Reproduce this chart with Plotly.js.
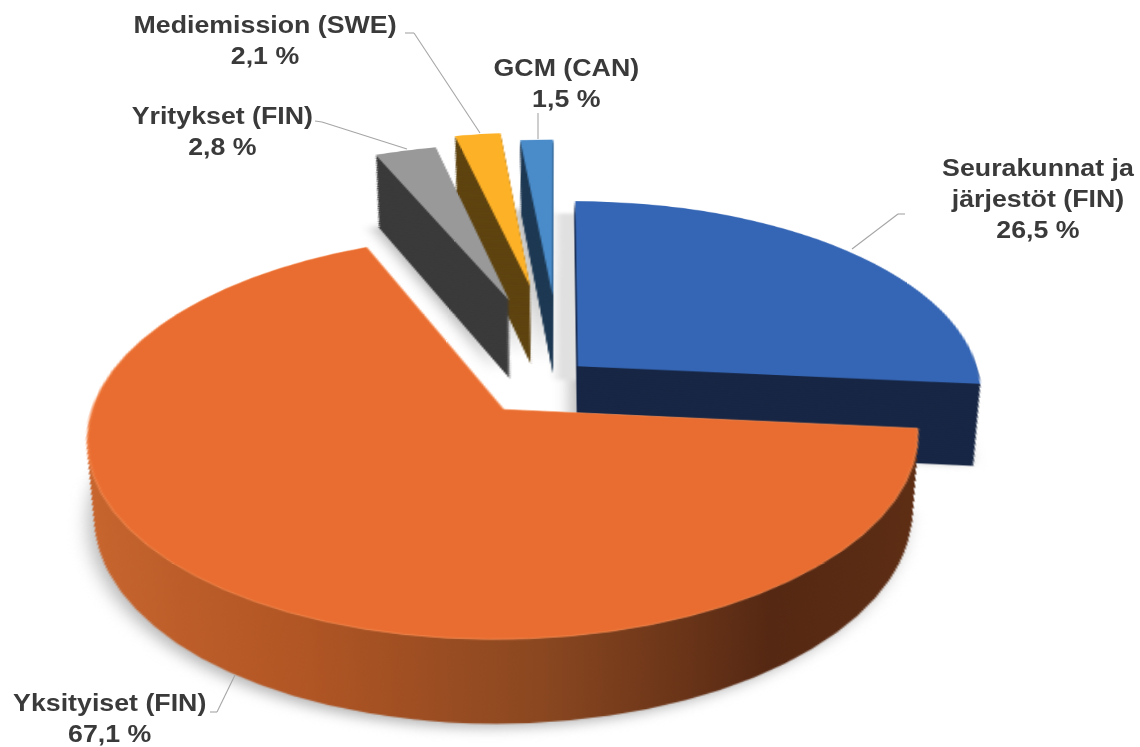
<!DOCTYPE html>
<html>
<head>
<meta charset="utf-8">
<script src="https://cdn.plot.ly/plotly-3.0.1.min.js"></script>
<style>
html,body{margin:0;padding:0;background:#fff;overflow:hidden}
#chart{width:1140px;height:747px;position:relative;filter:blur(0.55px)}
#chart .annotation-text{transform-box:fill-box;transform-origin:center;transform:scaleX(1.115)}
</style>
</head>
<body>
<div id="chart"></div>
<script>
const categories = ["Seurakunnat ja<br>järjestöt (FIN)", "Yksityiset (FIN)", "Yritykset (FIN)", "Mediemission (SWE)", "GCM (CAN)"];
const values = [26.5, 67.1, 2.8, 2.1, 1.5];
const pulls = [0.07, 0.22, 0.46, 0.53, 0.49];
const smallPulls = [0, 0, 0.416, 0.483, 0.426];
const topColors = ["#3566b5", "#e96d30", "#999999", "#fdb127", "#4a8cca"];
const sideColors = ["#172644", "#8a4720", "#3b3b3b", "#5f4410", "#1f3a54"];
const labelX = [1038, 109, 222, 265, 566];
const labelY = [152, 687, 100, 9, 52];
const W = 1140, H = 747, D = 640, ox = 570, oy = 325;
const scale = 1.92, footY = 1218, layers = 40;
const drawGroups = [
  {slices: [2, 3, 4], shrink: 0.07, pull: smallPulls, size: 1.015, dx: 2},
  {slices: [0], shrink: 0.07, pull: pulls, size: 1, dx: 0},
  {slices: [1], shrink: 0.065, pull: pulls, size: 1, dx: 0}
];
function pieLayer(g, colors, shrink, rim) {
  const size = D * g.size * (1 - shrink), cy = oy + shrink * footY, cx = ox + g.dx;
  return {
    type: "pie", values: values, labels: categories, sort: false, direction: "clockwise", rotation: 0,
    pull: g.pull, textinfo: "none", hoverinfo: "skip", showlegend: false,
    domain: {x: [(cx - size / 2) / W, (cx + size / 2) / W], y: [1 - (cy + size / 2) / H, 1 - (cy - size / 2) / H]},
    marker: {
      colors: colors.map((c, i) => g.slices.includes(i) ? c : "rgba(0,0,0,0)"),
      line: {width: rim ? 0.7 : 0, color: rim ? colors.map((c, i) => g.slices.includes(i) && rim[i] ? rim[i] : "rgba(0,0,0,0)") : undefined}
    }
  };
}
const traces = [];
const orangeSide = [];
const softened = [];
softened.push([traces.length, 4]);
traces.push(pieLayer({slices: [0, 1, 2, 3, 4], pull: pulls, size: 1, dx: -3}, topColors.map(() => "#b5b5b5"), 0.068));
softened.push([traces.length, 2]);
traces.push(pieLayer({slices: [0], pull: pulls, size: 1, dx: -11}, topColors.map(() => "#e0e0e0"), 0.012));
const rims = [null, "#f78f57", null, null, null];
drawGroups.forEach(g => {
  for (let n = layers; n > 0; n--) {
    if (g.slices[0] === 1) orangeSide.push(traces.length);
    traces.push(pieLayer(g, sideColors, g.shrink * n / layers));
  }
  traces.push(pieLayer(g, topColors, 0, g.slices[0] === 1 ? rims : null));
});
const pct = v => v.toFixed(1).replace(".", ",") + " %";
const annotations = categories.map((c, i) => ({
  xref: "paper", yref: "paper", x: labelX[i] / W, y: 1 - labelY[i] / H, xanchor: "center", yanchor: "top",
  text: "<b>" + c + "<br>" + pct(values[i]) + "</b>", showarrow: false, align: "center",
  font: {family: "Liberation Sans, Arial, sans-serif", size: 24, color: "#3a3a3a"}
}));
const leader = [
  [[905, 214], [898, 214], [852, 249]],
  [[210, 712], [217, 712], [235, 675]],
  [[315, 121], [322, 122], [407, 149]],
  [[405, 33], [414, 33], [480, 133]],
  [[538, 113], [538, 139]]
];
const shapes = [];
leader.forEach(p => { for (let i = 0; i + 1 < p.length; i++) shapes.push({
  type: "line", xref: "paper", yref: "paper", x0: p[i][0] / W, y0: 1 - p[i][1] / H, x1: p[i + 1][0] / W, y1: 1 - p[i + 1][1] / H,
  line: {color: "#a6a6a6", width: 1.1}
}); });
const layout = {width: W, height: H, margin: {l: 0, r: 0, t: 0, b: 0}, paper_bgcolor: "rgba(0,0,0,0)", showlegend: false, annotations, shapes};
Plotly.newPlot("chart", traces, layout, {displayModeBar: false, staticPlot: true}).then(gd => {
  const svg = gd.querySelector(".main-svg");
  const NS = "http://www.w3.org/2000/svg";
  const defs = document.createElementNS(NS, "defs");
  const lg = document.createElementNS(NS, "linearGradient");
  lg.id = "orangeSide";
  [[0, "#c9662f"], [0.3, "#b05524"], [0.55, "#8a4720"], [0.8, "#552813"], [1, "#5e2e14"]].forEach(s => {
    const st = document.createElementNS(NS, "stop");
    st.setAttribute("offset", s[0]); st.setAttribute("stop-color", s[1]); lg.appendChild(st);
  });
  defs.appendChild(lg); svg.appendChild(defs);
  const pies = svg.querySelectorAll(".pielayer .trace");
  orangeSide.forEach(i => {
    const sl = pies[i].querySelectorAll(".slice path.surface")[1];
    if (sl) sl.style.fill = "url(#orangeSide)";
  });
  softened.forEach(([i, b]) => { pies[i].style.filter = "blur(" + b + "px)"; });
  const tx = 503 + 54 - ox, ty = 410 - 35 - oy;
  svg.style.transformOrigin = ox + "px " + oy + "px";
  svg.style.transform = `translate(${tx}px,${ty}px) perspective(2652px) rotateX(61.9deg) scale(${scale})`;
});
</script>
</body>
</html>
